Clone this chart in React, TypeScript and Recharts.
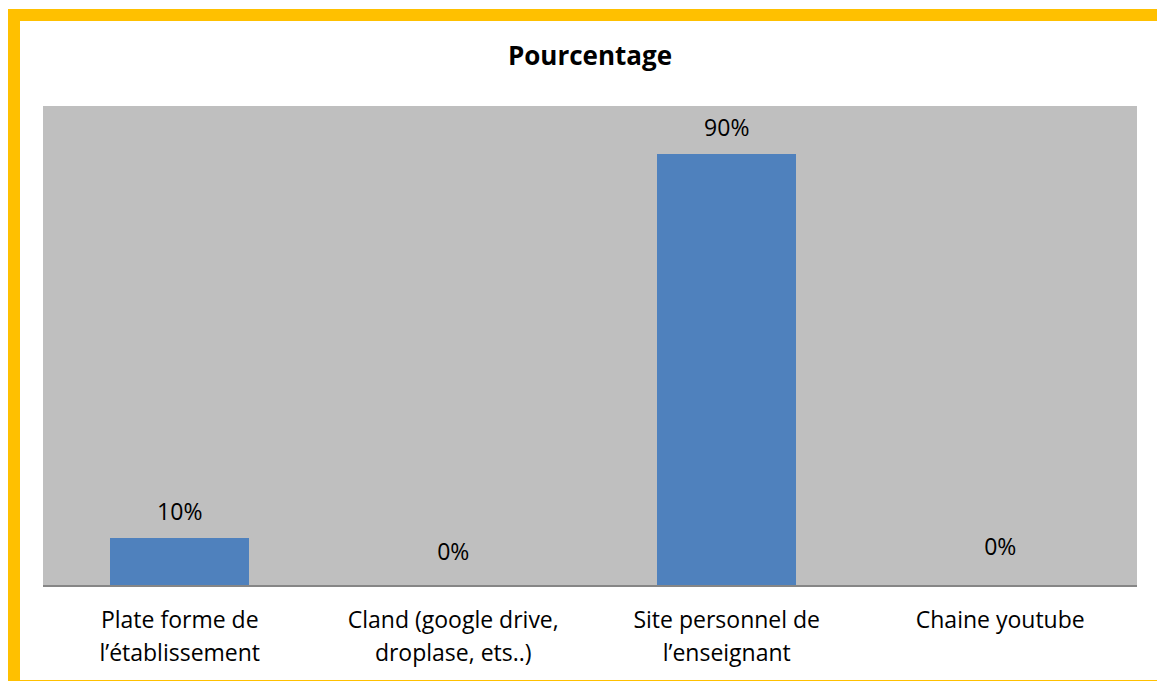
import React from "react";
import { ComposedChart, Bar, Line, XAxis, YAxis, CartesianGrid, LabelList } from "recharts";

const categories = [
  "Plate forme de\nl’établissement",
  "Cland (google drive,\ndroplase, ets..)",
  "Site personnel de\nl’enseignant",
  "Chaine youtube",
];
const percentages = [0.1, 0, 0.9, 0];
const valueLabels = ["10%", "0%", "90%", "0%"];

const data = categories.map((c, i) => ({ name: c, value: percentages[i], label: valueLabels[i] }));

const FONT = "'Open Sans', sans-serif";

const Tick = (props: any) => {
  const { x, y, payload } = props;
  const lines = String(payload.value).split("\n");
  return (
    <g transform={`translate(${x},${y})`}>
      {lines.map((l: string, i: number) => (
        <text key={i} x={0} y={25 + i * 33} textAnchor="middle" dominantBaseline="central" fontFamily={FONT} fontSize={23} fill="#000">
          {l}
        </text>
      ))}
    </g>
  );
};

const ValueLabel = (props: any) => {
  const { x, y, value, index } = props;
  const off = percentages[index] === 0 ? (index === 1 ? 35 : 40) : 27;
  return (
    <text x={x} y={y - off} textAnchor="middle" dominantBaseline="central" fontFamily={FONT} fontSize={23} fill="#000">
      {value}
    </text>
  );
};

export default function App() {
  return (
    <div style={{ width: 1157, height: 673, overflow: "hidden" }}>
      <div
        style={{
          marginTop: 1,
          width: 1140,
          height: 659,
          border: "12px solid #FFC000",
          background: "#fff",
          position: "relative",
        }}
      >
        <div
          style={{
            position: "absolute",
            left: 0,
            top: 18,
            width: 1140,
            textAlign: "center",
            fontFamily: FONT,
            fontWeight: "bold",
            fontSize: 26,
            lineHeight: "32px",
            color: "#000",
          }}
        >
          Pourcentage
        </div>
        <ComposedChart width={1140} height={659} data={data} margin={{ top: 85, right: 23, bottom: 0, left: 23 }} barCategoryGap="24.5%">
          <CartesianGrid fill="#BFBFBF" stroke="none" horizontal={false} vertical={false} />
          <XAxis dataKey="name" axisLine={{ stroke: "#868686", strokeWidth: 2 }} tickLine={false} tick={<Tick />} interval={0} height={94} />
          <YAxis hide domain={[0, 1]} />
          <Bar dataKey="value" fill="#4F81BD" isAnimationActive={false} />
          <Line dataKey="value" stroke="none" dot={false} activeDot={false} isAnimationActive={false}>
            <LabelList dataKey="label" content={<ValueLabel />} />
          </Line>
        </ComposedChart>
      </div>
    </div>
  );
}
